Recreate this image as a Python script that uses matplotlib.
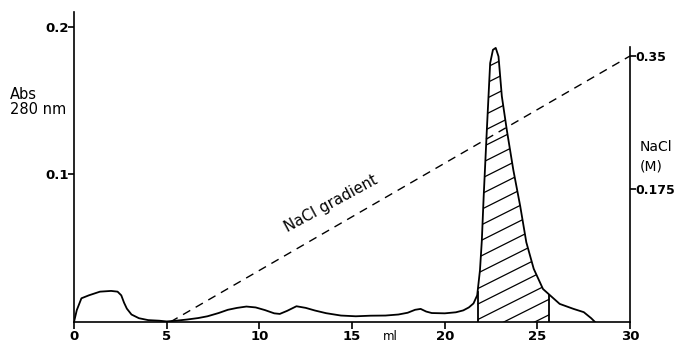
import numpy as np
import matplotlib.pyplot as plt
from matplotlib.patches import Polygon

plt.rcParams['font.family'] = ['DejaVu Sans']

# Elution profile (ml vs absorbance at 280 nm)
ml = [0.0, 0.15, 0.4, 0.8, 1.4, 2.0, 2.35, 2.55, 2.7, 2.85, 3.1, 3.5, 4.0, 4.6,
      5.0, 5.5, 6.1, 6.7, 7.2, 7.8, 8.3, 8.8, 9.3, 9.8, 10.3, 10.8, 11.1, 11.5,
      12.0, 12.5, 13.0, 13.6, 14.4, 15.2, 16.0, 16.8, 17.5, 18.0, 18.4, 18.7,
      19.0, 19.3, 20.0, 20.6, 21.0, 21.3, 21.55, 21.75, 21.9, 22.0, 22.1, 22.27,
      22.45, 22.6, 22.75, 22.9, 23.08, 23.35, 23.7, 24.07, 24.4, 24.8, 25.3,
      25.7, 26.2, 26.95, 27.5, 27.9, 28.1]
absorb = [0.0, 0.008, 0.016, 0.018, 0.0205, 0.021, 0.0205, 0.018, 0.013, 0.009,
          0.005, 0.0025, 0.0012, 0.0008, 0.0003, 0.0008, 0.0016, 0.0026, 0.0038,
          0.006, 0.0082, 0.0095, 0.0104, 0.0098, 0.008, 0.0058, 0.0054, 0.0075,
          0.0106, 0.0095, 0.0077, 0.0059, 0.0043, 0.0038, 0.0042, 0.0043, 0.005,
          0.0062, 0.0082, 0.0088, 0.007, 0.006, 0.0058, 0.0065, 0.0078, 0.0098,
          0.0125, 0.018, 0.035, 0.055, 0.085, 0.130, 0.1755, 0.1845, 0.1858,
          0.180, 0.153, 0.130, 0.103, 0.0786, 0.054, 0.036, 0.0223, 0.0178,
          0.0122, 0.0088, 0.0066, 0.0025, 0.0]

# NaCl gradient (linear, start and end)
grad_ml = [5.2, 30.0]
grad_nacl = [0.0, 0.35]

# pooled fraction (hatched)
pool = (21.77, 25.65)

x_ticks = [0, 5, 10, 15, 20, 25, 30]
abs_ticks = [0.1, 0.2]
abs_labels = ['0.1', '0.2']
nacl_ticks = [0.175, 0.35]
nacl_labels = ['0.175', '0.35']

ml = np.array(ml)
absorb = np.array(absorb)

fig = plt.figure(figsize=(6.79, 3.45), dpi=100)
ax = fig.add_axes([0.109, 0.067, 0.819, 0.898])
ax2 = ax.twinx()

ax.plot(ml, absorb, color='black', lw=1.3, solid_joinstyle='round')
ax.set_xlim(0, 30)
ax.set_ylim(0, 0.2101)

# hatched region
y_lo = np.interp(pool[0], ml, absorb)
y_hi = np.interp(pool[1], ml, absorb)
inside = (ml > pool[0]) & (ml < pool[1])
px = np.concatenate([[pool[0], pool[0]], ml[inside], [pool[1], pool[1]]])
py = np.concatenate([[0, y_lo], absorb[inside], [y_hi, 0]])
poly = Polygon(np.column_stack([px, py]), closed=True, facecolor='none',
               edgecolor='none')
ax.add_patch(poly)
ax.plot([pool[0], pool[0]], [0, y_lo], color='black', lw=1.3)
ax.plot([pool[1], pool[1]], [0, y_hi], color='black', lw=1.3)
slope = 0.0063
for c in np.arange(-0.03, 0.2, 0.0105):
    xs = np.array([pool[0], pool[1]])
    ln, = ax.plot(xs, c + slope * (xs - pool[0]), color='black', lw=0.9)
    ln.set_clip_path(poly)

# gradient
ax2.plot(grad_ml, grad_nacl, color='black', lw=1.0, dashes=(6, 4.5))
ax2.set_ylim(0, 0.4077)

ax.text(13.85, 0.080, 'NaCl gradient', rotation=28.5, fontsize=10.8,
        ha='center', va='center')

# axes styling
for a in (ax, ax2):
    a.spines['top'].set_visible(False)
ax.spines['right'].set_visible(False)
ax2.spines['left'].set_visible(False)
ax2.spines['bottom'].set_visible(False)
ax2.spines['right'].set_bounds(0, 0.362)
for s in ('left', 'bottom'):
    ax.spines[s].set_linewidth(1.2)
ax2.spines['right'].set_linewidth(1.2)

tick_font = dict(fontweight='bold', family='DejaVu Sans')
ax.set_xticks(x_ticks)
ax.set_xticklabels([str(v) for v in x_ticks], fontsize=9.5, **tick_font)
ax.set_yticks(abs_ticks)
ax.set_yticklabels(abs_labels, fontsize=9.5, **tick_font)
ax2.set_yticks(nacl_ticks)
ax2.set_yticklabels(nacl_labels, fontsize=9, **tick_font)
ax.tick_params(axis='x', direction='out', length=5, width=1.2, pad=0.5)
ax.tick_params(axis='y', direction='out', length=4, width=1.2, pad=0)
ax2.tick_params(axis='y', direction='out', length=4, width=1.2, pad=0)

fig.text(10 / 679, 1 - 94 / 345, 'Abs', fontsize=10.5, ha='left', va='center')
fig.text(10 / 679, 1 - 109 / 345, '280 nm', fontsize=10.5, ha='left',
         va='center')
fig.text(640 / 679, 1 - 147 / 345, 'NaCl', fontsize=10, ha='left',
         va='center')
fig.text(640 / 679, 1 - 167 / 345, '(M)', fontsize=10, ha='left',
         va='center')
fig.text(390 / 679, 1 - 336 / 345, 'ml', fontsize=8.5, ha='center',
         va='center')

fig.savefig('out.png', dpi=100)
